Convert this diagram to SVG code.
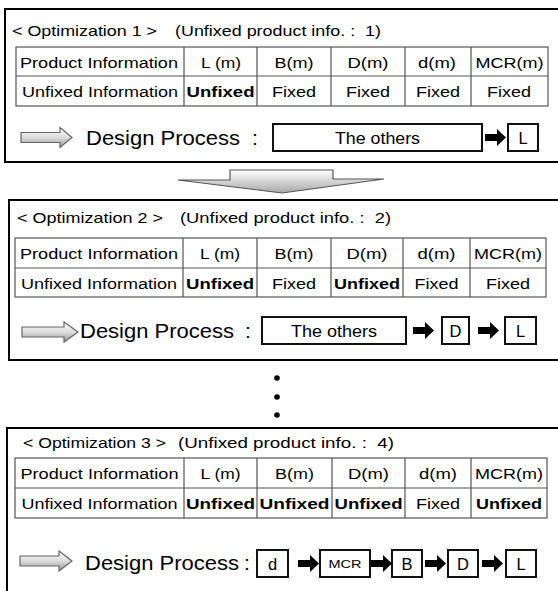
<svg xmlns="http://www.w3.org/2000/svg" xmlns:xlink="http://www.w3.org/1999/xlink" width="558" height="591" viewBox="0 0 558 591">
  <style>
    .frame { fill: #fff; stroke: #000; stroke-width: 2; }
    .grid { fill: none; stroke: #555; stroke-width: 1.2; }
    .step { fill: #fff; stroke: #111; stroke-width: 2; }
    text { font-family: "Liberation Sans", Arial, Helvetica, sans-serif; fill: #000; }
    .title { font-size: 15px; }
    .cell { font-size: 15.5px; text-anchor: middle; }
    .b { font-weight: bold; }
    .dp { font-size: 21px; }
    .st { font-size: 16.5px; text-anchor: middle; }
    .mcr { font-size: 11.5px; text-anchor: middle; }
    .blk { fill: #000; }
    .hollow { fill: url(#hollowFill); stroke: #666; stroke-width: 1.2; }
    .down { fill: url(#downFill); stroke: #555; stroke-width: 1.2; }
  </style>
  <defs>
    <linearGradient id="hollowFill" x1="0" y1="0" x2="0" y2="1">
      <stop offset="0" stop-color="#ffffff"/>
      <stop offset="0.5" stop-color="#dcdcdc"/>
      <stop offset="1" stop-color="#9a9a9a"/>
    </linearGradient>
    <linearGradient id="downFill" x1="0" y1="0" x2="0" y2="1">
      <stop offset="0" stop-color="#ffffff"/>
      <stop offset="1" stop-color="#a8a8a8"/>
    </linearGradient>
    <!-- solid block arrow, origin at tail centre -->
    <path id="blockArrow" d="M0,-3.5 H12 V-8.5 L21,0 L12,8.5 V3.5 H0 Z"/>
  </defs>

  <rect width="558" height="591" fill="#fff"/>

  <!-- ===== Optimization 1 ===== -->
  <g id="opt1">
    <rect class="frame" x="5" y="9" width="560" height="153"/>
    <text class="title" x="12" y="36" textLength="145" lengthAdjust="spacingAndGlyphs">&lt; Optimization 1 &gt;</text>
    <text class="title" x="175" y="36" textLength="206" lengthAdjust="spacingAndGlyphs" xml:space="preserve">(Unfixed product info. :  1)</text>
    <g id="table1">
      <rect class="grid" x="16" y="47" width="532" height="59"/>
      <path class="grid" d="M16,76 H548 M184,47 V106 M257,47 V106 M331,47 V106 M405,47 V106 M471,47 V106"/>
      <text class="cell" x="99" y="68" textLength="158" lengthAdjust="spacingAndGlyphs">Product Information</text>
      <text class="cell" x="221" y="68" textLength="40" lengthAdjust="spacingAndGlyphs">L (m)</text>
      <text class="cell" x="294" y="68" textLength="39" lengthAdjust="spacingAndGlyphs">B(m)</text>
      <text class="cell" x="368" y="68" textLength="41" lengthAdjust="spacingAndGlyphs">D(m)</text>
      <text class="cell" x="437" y="68" textLength="38" lengthAdjust="spacingAndGlyphs">d(m)</text>
      <text class="cell" x="509.5" y="68" textLength="68" lengthAdjust="spacingAndGlyphs">MCR(m)</text>
      <text class="cell" x="100" y="97" textLength="156" lengthAdjust="spacingAndGlyphs">Unfixed Information</text>
      <text class="cell b" x="220.5" y="97" textLength="68" lengthAdjust="spacingAndGlyphs">Unfixed</text>
      <text class="cell" x="294" y="97" textLength="44" lengthAdjust="spacingAndGlyphs">Fixed</text>
      <text class="cell" x="368" y="97" textLength="44" lengthAdjust="spacingAndGlyphs">Fixed</text>
      <text class="cell" x="438" y="97" textLength="44" lengthAdjust="spacingAndGlyphs">Fixed</text>
      <text class="cell" x="509" y="97" textLength="44" lengthAdjust="spacingAndGlyphs">Fixed</text>
    </g>
    <path class="hollow" d="M21,132.5 H60 V127.5 L72,137.5 L60,147.5 V142.5 H21 Z"/>
    <text class="dp" x="86" y="145" textLength="154" lengthAdjust="spacingAndGlyphs">Design Process</text>
    <text class="dp" x="255" y="145" text-anchor="middle">:</text>
    <g id="opt1-others">
      <rect class="step" x="273" y="124" width="209" height="27"/>
      <text class="st" x="377.5" y="143.5" textLength="85" lengthAdjust="spacingAndGlyphs">The others</text>
    </g>
    <g id="opt1-L">
      <rect class="step" x="508" y="124" width="30" height="27"/>
      <text class="st" x="523" y="143.5">L</text>
    </g>
  </g>

  <!-- ===== Optimization 2 ===== -->
  <g id="opt2">
    <rect class="frame" x="9" y="200" width="560" height="160"/>
    <text class="title" x="17" y="223" textLength="146" lengthAdjust="spacingAndGlyphs">&lt; Optimization 2 &gt;</text>
    <text class="title" x="180" y="223" textLength="211" lengthAdjust="spacingAndGlyphs" xml:space="preserve">(Unfixed product info. :  2)</text>
    <g id="table2">
      <rect class="grid" x="15" y="238" width="531" height="59"/>
      <path class="grid" d="M15,268 H546 M183,238 V297 M257,238 V297 M331,238 V297 M403,238 V297 M470,238 V297"/>
      <text class="cell" x="99" y="259" textLength="158" lengthAdjust="spacingAndGlyphs">Product Information</text>
      <text class="cell" x="220" y="259" textLength="40" lengthAdjust="spacingAndGlyphs">L (m)</text>
      <text class="cell" x="294" y="259" textLength="39" lengthAdjust="spacingAndGlyphs">B(m)</text>
      <text class="cell" x="367" y="259" textLength="41" lengthAdjust="spacingAndGlyphs">D(m)</text>
      <text class="cell" x="436.5" y="259" textLength="38" lengthAdjust="spacingAndGlyphs">d(m)</text>
      <text class="cell" x="508" y="259" textLength="68" lengthAdjust="spacingAndGlyphs">MCR(m)</text>
      <text class="cell" x="99" y="289" textLength="156" lengthAdjust="spacingAndGlyphs">Unfixed Information</text>
      <text class="cell b" x="220" y="289" textLength="68" lengthAdjust="spacingAndGlyphs">Unfixed</text>
      <text class="cell" x="294" y="289" textLength="44" lengthAdjust="spacingAndGlyphs">Fixed</text>
      <text class="cell b" x="367" y="289" textLength="66" lengthAdjust="spacingAndGlyphs">Unfixed</text>
      <text class="cell" x="436.5" y="289" textLength="44" lengthAdjust="spacingAndGlyphs">Fixed</text>
      <text class="cell" x="508" y="289" textLength="44" lengthAdjust="spacingAndGlyphs">Fixed</text>
    </g>
    <path class="hollow" d="M22,327 H64 V322 L78,332 L64,342 V337 H22 Z"/>
    <text class="dp" x="80" y="338" textLength="154" lengthAdjust="spacingAndGlyphs">Design Process</text>
    <text class="dp" x="248" y="338" text-anchor="middle">:</text>
    <g id="opt2-others">
      <rect class="step" x="262" y="317" width="144" height="27"/>
      <text class="st" x="334" y="336.5" textLength="86" lengthAdjust="spacingAndGlyphs">The others</text>
    </g>
    <g id="opt2-D">
      <rect class="step" x="442" y="317" width="27" height="27"/>
      <text class="st" x="455.5" y="336.5">D</text>
    </g>
    <g id="opt2-L">
      <rect class="step" x="505" y="317" width="31" height="27"/>
      <text class="st" x="520.5" y="336.5">L</text>
    </g>
  </g>

  <!-- ellipsis between panels -->
  <g id="ellipsis" fill="#000">
    <circle cx="277" cy="378" r="2.8"/>
    <circle cx="277" cy="397" r="2.8"/>
    <circle cx="277" cy="415" r="2.8"/>
  </g>

  <!-- ===== Optimization 3 ===== -->
  <g id="opt3">
    <rect class="frame" x="7" y="428" width="560" height="180"/>
    <text class="title" x="23" y="448" textLength="143" lengthAdjust="spacingAndGlyphs">&lt; Optimization 3 &gt;</text>
    <text class="title" x="178" y="448" textLength="216" lengthAdjust="spacingAndGlyphs" xml:space="preserve">(Unfixed product info. :  4)</text>
    <g id="table3">
      <rect class="grid" x="15" y="458" width="532" height="60"/>
      <path class="grid" d="M15,488 H547 M184,458 V518 M257,458 V518 M332,458 V518 M405,458 V518 M471,458 V518"/>
      <text class="cell" x="99.5" y="479" textLength="158" lengthAdjust="spacingAndGlyphs">Product Information</text>
      <text class="cell" x="220.5" y="479" textLength="40" lengthAdjust="spacingAndGlyphs">L (m)</text>
      <text class="cell" x="294.5" y="479" textLength="39" lengthAdjust="spacingAndGlyphs">B(m)</text>
      <text class="cell" x="368.5" y="479" textLength="41" lengthAdjust="spacingAndGlyphs">D(m)</text>
      <text class="cell" x="438" y="479" textLength="38" lengthAdjust="spacingAndGlyphs">d(m)</text>
      <text class="cell" x="509" y="479" textLength="68" lengthAdjust="spacingAndGlyphs">MCR(m)</text>
      <text class="cell" x="99.5" y="509" textLength="156" lengthAdjust="spacingAndGlyphs">Unfixed Information</text>
      <text class="cell b" x="220.5" y="509" textLength="69" lengthAdjust="spacingAndGlyphs">Unfixed</text>
      <text class="cell b" x="294.5" y="509" textLength="70" lengthAdjust="spacingAndGlyphs">Unfixed</text>
      <text class="cell b" x="368.5" y="509" textLength="68" lengthAdjust="spacingAndGlyphs">Unfixed</text>
      <text class="cell" x="438" y="509" textLength="44" lengthAdjust="spacingAndGlyphs">Fixed</text>
      <text class="cell b" x="509" y="509" textLength="66" lengthAdjust="spacingAndGlyphs">Unfixed</text>
    </g>
    <path class="hollow" d="M20,556 H59 V551 L72,561 L59,571 V566 H20 Z"/>
    <text class="dp" x="85" y="570" textLength="154" lengthAdjust="spacingAndGlyphs">Design Process</text>
    <text class="dp" x="247" y="570" text-anchor="middle">:</text>
    <g id="opt3-d">
      <rect class="step" x="257" y="550" width="31" height="27"/>
      <text class="st" x="272.5" y="569.5">d</text>
    </g>
    <g id="opt3-MCR">
      <rect class="step" x="320" y="550" width="50" height="27"/>
      <text class="mcr" x="345" y="567.5" textLength="33" lengthAdjust="spacingAndGlyphs">MCR</text>
    </g>
    <g id="opt3-B">
      <rect class="step" x="392" y="550" width="30" height="27"/>
      <text class="st" x="407" y="569.5">B</text>
    </g>
    <g id="opt3-D">
      <rect class="step" x="448" y="550" width="30" height="27"/>
      <text class="st" x="463" y="569.5">D</text>
    </g>
    <g id="opt3-L">
      <rect class="step" x="506" y="550" width="30" height="27"/>
      <text class="st" x="521" y="569.5">L</text>
    </g>
  </g>

  <!-- connectors: flow arrows between steps and the transition arrow between panels -->
  <g id="connectors">
    <path class="down" d="M230,170 H333 V179 L384,179 L282,193 L178,180 L230,180 Z"/>
    <use href="#blockArrow" class="blk" x="485" y="137.5"/>
    <use href="#blockArrow" class="blk" x="413" y="330.5"/>
    <use href="#blockArrow" class="blk" x="478" y="330.5"/>
    <use href="#blockArrow" class="blk" x="298" y="563.5"/>
    <use href="#blockArrow" class="blk" x="371" y="563.5"/>
    <use href="#blockArrow" class="blk" x="425" y="563.5"/>
    <use href="#blockArrow" class="blk" x="482" y="563.5"/>
  </g>
</svg>
